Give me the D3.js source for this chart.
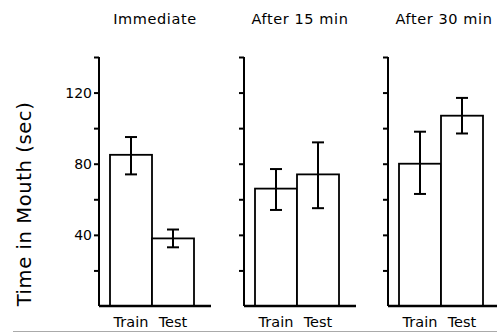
<!DOCTYPE html>
<html>
<head>
<meta charset="utf-8">
<script src="https://cdn.jsdelivr.net/npm/d3@7"></script>
<style>
  body { margin: 0; background: #fff; }
  svg { display: block; font-family: "DejaVu Sans", sans-serif; }
</style>
</head>
<body>
<div class="chart"></div>
<script>
// values
const panels = ["Immediate", "After 15 min", "After 30 min"];
const conditions = ["Train", "Test"];
const means = [[85, 38], [66, 74], [80, 107]];
const errHi = [[95, 43], [77, 92], [98, 117]];
const errLo = [[74, 33], [54, 55], [63, 97]];
const tickVals = [20, 40, 60, 80, 100, 120, 140];
const tickLabels = [40, 80, 120];

const width = 497, height = 332;
const axisX = [99, 244, 388];

const svg = d3.select(".chart").append("svg")
  .attr("width", width).attr("height", height);

const yScale = d3.scaleLinear().domain([0, 140]).range([306, 57]);

panels.forEach((name, p) => {
  const x0 = axisX[p];
  const xScale = d3.scaleBand().domain(conditions).range([x0 + 11, x0 + 95]).paddingInner(0);
  const g = svg.append("g").attr("class", "panel");

  // title
  g.append("text")
    .attr("x", x0 + 56).attr("y", 24)
    .attr("text-anchor", "middle")
    .attr("font-size", 14.5)
    .attr("letter-spacing", 0.6)
    .text(name);

  // bars
  g.selectAll("rect.bar")
    .data(conditions)
    .join("rect")
    .attr("class", "bar")
    .attr("x", d => xScale(d))
    .attr("width", xScale.bandwidth())
    .attr("y", (d, i) => yScale(means[p][i]))
    .attr("height", (d, i) => yScale(0) - yScale(means[p][i]))
    .attr("fill", "#fff")
    .attr("stroke", "#000")
    .attr("stroke-width", 1.8);

  // error bars
  const eb = g.selectAll("g.err").data(conditions).join("g").attr("class", "err")
    .attr("stroke", "#000").attr("stroke-width", 2);
  eb.append("line")
    .attr("x1", d => xScale(d) + xScale.bandwidth() / 2)
    .attr("x2", d => xScale(d) + xScale.bandwidth() / 2)
    .attr("y1", (d, i) => yScale(errHi[p][i]))
    .attr("y2", (d, i) => yScale(errLo[p][i]));
  [errHi, errLo].forEach(arr => {
    eb.append("line")
      .attr("x1", d => xScale(d) + xScale.bandwidth() / 2 - 6)
      .attr("x2", d => xScale(d) + xScale.bandwidth() / 2 + 6)
      .attr("y1", (d, i) => yScale(arr[p][i]))
      .attr("y2", (d, i) => yScale(arr[p][i]));
  });

  // y axis
  const yAxis = d3.axisLeft(yScale).tickValues(tickVals).tickSize(5).tickSizeOuter(0)
    .tickFormat(d => (p === 0 && tickLabels.includes(d)) ? d : "");
  const ax = g.append("g")
    .attr("transform", "translate(" + x0 + ",0)")
    .call(yAxis);
  ax.select(".domain").attr("stroke-width", 2)
    .attr("d", "M0," + yScale(140) + "V" + yScale(0));
  ax.selectAll(".tick line").attr("stroke-width", 2);
  ax.selectAll(".tick text").attr("font-size", 14).attr("font-family", "DejaVu Sans, sans-serif").attr("fill", "#000").attr("x", -7);

  // baseline
  g.append("line")
    .attr("x1", x0).attr("x2", Math.min(x0 + 112, width))
    .attr("y1", yScale(0)).attr("y2", yScale(0))
    .attr("stroke", "#000").attr("stroke-width", 2.5);

  // condition labels
  g.selectAll("text.cond")
    .data(conditions)
    .join("text")
    .attr("class", "cond")
    .attr("x", d => xScale(d) + xScale.bandwidth() / 2)
    .attr("y", 327)
    .attr("text-anchor", "middle")
    .attr("font-size", 14.5)
    .text(d => d);
});

// y label
svg.append("text")
  .attr("transform", "translate(31,204) rotate(-90)")
  .attr("text-anchor", "middle")
  .attr("font-size", 19.5)
  .attr("letter-spacing", 0.6)
  .text("Time in Mouth (sec)");

// gray rule at bottom
svg.append("line")
  .attr("x1", 13).attr("x2", width)
  .attr("y1", 331.5).attr("y2", 331.5)
  .attr("stroke", "#aaa").attr("stroke-width", 1);
</script>
</body>
</html>
